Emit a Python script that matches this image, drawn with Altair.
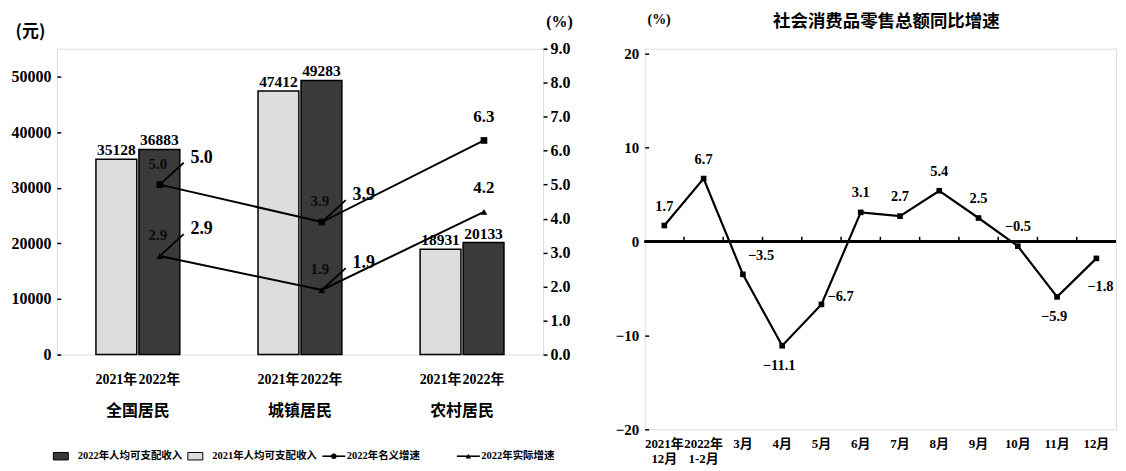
import altair as alt
import pandas as pd

# ---------------- data ----------------
groups = ["全国居民", "城镇居民", "农村居民"]
years = ["2021年", "2022年"]
income_2021 = [35128, 47412, 18931]
income_2022 = [36883, 49283, 20133]
nominal_growth = [5.0, 3.9, 6.3]
real_growth = [2.9, 1.9, 4.2]
growth_callout = [True, True, False]
income_ticks = [0, 10000, 20000, 30000, 40000, 50000]
pct_ticks = [0, 1, 2, 3, 4, 5, 6, 7, 8, 9]
series_names = ["名义增速", "实际增速"]
legend_labels = ["2022年人均可支配收入", "2021年人均可支配收入", "2022年名义增速", "2022年实际增速"]

months = ["2021年12月", "2022年1-2月", "3月", "4月", "5月", "6月", "7月", "8月", "9月", "10月", "11月", "12月"]
retail_growth = [1.7, 6.7, -3.5, -11.1, -6.7, 3.1, 2.7, 5.4, 2.5, -0.5, -5.9, -1.8]
retail_label_pos = ["above", "above", "upright", "below", "right", "above", "above", "above",
                    "above", "above", "below", "belowright"]
retail_ticks = [-20, -10, 0, 10, 20]

SERIF = "Liberation Serif, Noto Sans CJK SC"
CJK = "Noto Sans CJK SC"

bar_rows = []
for g, a, b in zip(groups, income_2021, income_2022):
    bar_rows.append({"group": g, "year": years[0], "income": a})
    bar_rows.append({"group": g, "year": years[1], "income": b})
bars_df = pd.DataFrame(bar_rows)

growth_rows = []
for g, n, r, c in zip(groups, nominal_growth, real_growth, growth_callout):
    growth_rows.append({"group": g, "series": series_names[0], "value": n, "callout": c})
    growth_rows.append({"group": g, "series": series_names[1], "value": r, "callout": c})
growth_df = pd.DataFrame(growth_rows)

retail_df = pd.DataFrame({"month": months, "value": retail_growth, "pos": retail_label_pos})
legend_df = pd.DataFrame({"label": legend_labels, "idx": list(range(len(legend_labels)))})

# ---------------- left panel ----------------
LW, LH = 488, 307
x_group = alt.X("group:N", sort=groups,
                scale=alt.Scale(paddingInner=0, paddingOuter=0),
                axis=alt.Axis(title=None, labelFont=CJK, labelFontSize=16, labelFontWeight="bold",
                              labelPadding=48, ticks=False, domain=False, labelAngle=0,
                              labelColor="black", labelOverlap=False))
x_off = alt.XOffset("year:N", sort=years, scale=alt.Scale(paddingInner=0.05, paddingOuter=0.91))
year_color = alt.Color("year:N", scale=alt.Scale(domain=years, range=["#dddddd", "#3a3a3a"]), legend=None)

y_income = alt.Y("income:Q", scale=alt.Scale(domain=[0, 55000], nice=False),
                 axis=alt.Axis(values=income_ticks, format="d", title="(元)", titleAngle=0,
                               titleX=-31, titleY=-17, titleAlign="center", titleBaseline="middle",
                               titleFont=CJK, titleFontSize=17, titleFontWeight="bold",
                               offset=-4, tickSize=4, tickColor="black", tickWidth=1.5,
                               labelPadding=6, domain=False, grid=False, labelOverlap=False,
                               labelFont=SERIF, labelFontSize=16, labelFontWeight="bold",
                               labelColor="black"))

bar_base = alt.Chart(bars_df)
bars = bar_base.mark_bar(stroke="black", strokeWidth=1.5).encode(
    x=x_group, xOffset=x_off, y=y_income, color=year_color)
bar_labels = bar_base.mark_text(baseline="alphabetic", dy=-4, font=SERIF, fontSize=15.5,
                                fontWeight="bold", color="black").encode(
    x=alt.X("group:N", sort=groups), xOffset=x_off, y=y_income, text=alt.Text("income:Q", format="d"))
year_labels = bar_base.mark_text(baseline="middle", font=SERIF, fontSize=14,
                                 fontWeight="bold", color="black").encode(
    x=alt.X("group:N", sort=groups), xOffset=x_off, y=alt.value(LH + 26), text="year:N")
left_income = alt.layer(bars, bar_labels, year_labels)

y_pct = alt.Y("value:Q", scale=alt.Scale(domain=[0, 9], nice=False),
              axis=alt.Axis(orient="right", values=pct_ticks, format=".1f", title="(%)", titleAngle=0,
                            titleX=16, titleY=-27, titleAlign="center", titleBaseline="middle",
                            titleFont=SERIF, titleFontSize=16, titleFontWeight="bold",
                            tickSize=4, tickColor="black", tickWidth=1.5, labelPadding=3,
                            domain=False, grid=False, labelOverlap=False, labelFont=SERIF,
                            labelFontSize=16, labelFontWeight="bold", labelColor="black"))
y_pct2 = alt.Y2("value")
XO = 22
xg = alt.X("group:N", sort=groups)
g_base = alt.Chart(growth_df)
g_lines = g_base.mark_line(color="black", strokeWidth=2, xOffset=XO).encode(
    x=xg, y=y_pct, detail="series:N")
g_points = g_base.mark_point(filled=True, color="black", size=45, opacity=1, xOffset=XO).encode(
    x=xg, y=y_pct,
    shape=alt.Shape("series:N", scale=alt.Scale(domain=series_names, range=["square", "triangle-up"]),
                    legend=None))
callout = g_base.transform_filter("datum.callout")
plain = g_base.transform_filter("!datum.callout")
g_leader = callout.mark_rule(color="black", strokeWidth=1.8, xOffset=XO, x2Offset=XO + 24,
                             y2Offset=-22).encode(
    x=xg, x2=alt.X2("group"), y=y_pct, y2=y_pct2)
g_inner = callout.mark_text(xOffset=XO - 2, dy=-21, font=SERIF, fontSize=15, fontWeight="bold",
                            color="#0a0a0a").encode(
    x=xg, y=y_pct, text=alt.Text("value:Q", format=".1f"))
g_outer = callout.mark_text(xOffset=XO + 42, dy=-27, font=SERIF, fontSize=18, fontWeight="bold",
                            color="black").encode(
    x=xg, y=y_pct, text=alt.Text("value:Q", format=".1f"))
g_plain = plain.mark_text(xOffset=XO, dy=-24, font=SERIF, fontSize=17, fontWeight="bold",
                          color="black").encode(
    x=xg, y=y_pct, text=alt.Text("value:Q", format=".1f"))
left_growth = alt.layer(g_lines, g_points, g_leader, g_inner, g_outer, g_plain)

left_chart = alt.layer(left_income, left_growth).resolve_scale(y="independent").properties(
    width=LW, height=LH)

# ---------------- legend ----------------
LEG_STEP = 135
LEG_START = -4
leg_x = alt.X("idx:Q", axis=None,
              scale=alt.Scale(domain=[-LEG_START / LEG_STEP, (LW - LEG_START) / LEG_STEP], nice=False,
                              zero=False))
leg_base = alt.Chart(legend_df)
leg_rect = leg_base.transform_filter("datum.idx < 2").mark_point(
    shape="M-1,-0.5L1,-0.5L1,0.5L-1,0.5Z", size=225, filled=True, stroke="black", strokeWidth=1,
    opacity=1, xOffset=8).encode(
    x=leg_x, y=alt.value(5),
    fill=alt.Fill("label:N", scale=alt.Scale(domain=legend_labels[:2], range=["#3a3a3a", "#dddddd"]),
                  legend=None))
line_items = leg_base.transform_filter("datum.idx >= 2")
leg_line = line_items.mark_point(shape="M-1,0L1,0", size=529, filled=False, color="black",
                                 strokeWidth=1.6, opacity=1, xOffset=12).encode(
    x=leg_x, y=alt.value(5))
leg_mark = line_items.mark_point(filled=True, color="black", size=30, opacity=1, xOffset=12).encode(
    x=leg_x, y=alt.value(5),
    shape=alt.Shape("label:N", scale=alt.Scale(domain=legend_labels[2:], range=["circle", "triangle-up"]),
                    legend=None))
leg_text = leg_base.mark_text(align="left", baseline="middle", dx=25, font=SERIF, fontSize=10.5,
                              fontWeight="bold", color="black").encode(
    x=leg_x, y=alt.value(5), text="label:N")
legend_chart = alt.layer(leg_rect, leg_line, leg_mark, leg_text).properties(
    width=LW, height=10, view=alt.ViewBackground(stroke="transparent")).resolve_scale(shape="independent")

left_panel = alt.vconcat(left_chart, legend_chart, spacing=97, bounds="flush")

# ---------------- right panel ----------------
RW, RH = 473, 382
x_month = alt.X("month:N", sort=months, scale=alt.Scale(paddingInner=0, paddingOuter=0),
                axis=alt.Axis(title=None, ticks=False, domain=False, labelAngle=0, labelPadding=8,
                              labelFont=SERIF, labelFontSize=13, labelFontWeight="bold",
                              labelColor="black", labelLineHeight=15, labelOverlap=False,
                              labelExpr="indexof(datum.label, '年') > 0 ? [slice(datum.label, 0, indexof(datum.label, '年') + 1), slice(datum.label, indexof(datum.label, '年') + 1)] : datum.label"))
y_retail = alt.Y("value:Q", scale=alt.Scale(domain=[-20, 20.53], nice=False),
                 axis=alt.Axis(values=retail_ticks, format="d", title="(%)", titleAngle=0,
                               titleX=10, titleY=-29, titleAlign="center", titleBaseline="middle",
                               titleFont=SERIF, titleFontSize=14, titleFontWeight="bold",
                               offset=-4, tickSize=4, tickColor="black", tickWidth=1.5,
                               labelPadding=6, domain=False, grid=False, labelOverlap=False,
                               labelFont=SERIF, labelFontSize=15, labelFontWeight="bold",
                               labelColor="black"))
r_base = alt.Chart(retail_df)
r_zero = r_base.mark_rule(color="black", strokeWidth=1.6).encode(y=alt.datum(0))
r_ticks = r_base.transform_filter(alt.FieldOneOfPredicate(field="month", oneOf=months[1:])).mark_rule(
    color="black", strokeWidth=1.5).encode(
    x=alt.X("month:N", sort=months, bandPosition=0), y=alt.datum(0), y2=alt.datum(0.5))
r_line = r_base.mark_line(color="black", strokeWidth=2.2).encode(x=x_month, y=y_retail)
r_pts = r_base.mark_square(color="black", size=32, opacity=1).encode(
    x=alt.X("month:N", sort=months), y=y_retail)

offsets = {"above": ("center", 0, -19), "below": ("center", -3, 20), "upright": ("left", 5, -18),
           "right": ("left", 6, -7), "belowright": ("center", 4, 29)}
r_labels = []
for pos, (al, ddx, ddy) in offsets.items():
    r_labels.append(
        r_base.transform_filter(alt.datum.pos == pos).mark_text(
            align=al, dx=ddx, dy=ddy, font=SERIF, fontSize=14.5, fontWeight="bold", color="black").encode(
            x=alt.X("month:N", sort=months), y=y_retail,
            text=alt.Text("value:Q", format=".1f")))

right_chart = alt.layer(r_zero, r_line, r_ticks, r_pts, *r_labels).properties(
    width=RW, height=RH,
    title=alt.TitleParams("社会消费品零售总额同比增速", font=CJK, fontSize=17.5, fontWeight="bold",
                          anchor="middle", color="black", offset=-18, dx=6))

chart = alt.hconcat(left_panel, right_chart, spacing=41).properties(
    padding={"left": 2, "top": 3, "right": 0, "bottom": 0}
).configure_view(stroke="black", strokeWidth=2).configure(background="white")

chart.save("out.html", embed_options={"renderer": "svg", "actions": False})
